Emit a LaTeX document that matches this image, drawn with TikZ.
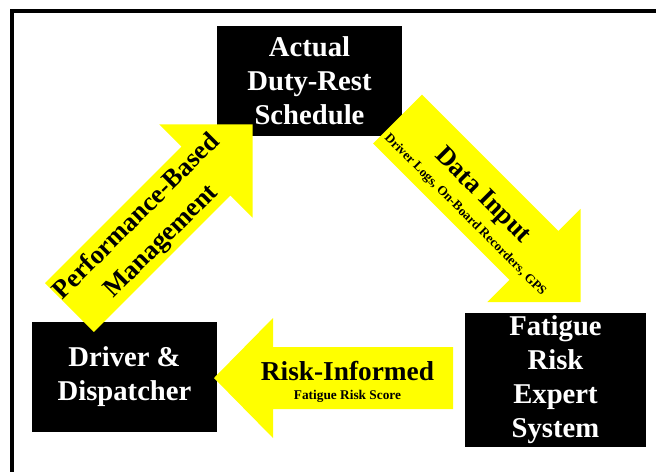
\documentclass[tikz,border=0pt]{standalone}
\usepackage{fontspec}
\setmainfont{Liberation Serif}
\usepackage{xcolor}
\usetikzlibrary{positioning}
\definecolor{arrowyellow}{RGB}{255, 255, 0}

\begin{document}
\begin{tikzpicture}[x=0.75pt, y=-0.75pt,
    blackbox/.style={rectangle, fill=black, text=white, align=center, inner sep=0pt, font=\fontsize{21.5}{25.5}\selectfont\bfseries},
    bigtxt/.style={text=black, align=center, inner sep=0pt, font=\fontsize{19.8}{26}\selectfont\bfseries},
    smalltxt/.style={text=black, inner sep=0pt, font=\fontsize{9.8}{11}\selectfont\bfseries}]
    \useasboundingbox (0,0) rectangle (656,472);

    % frame
    \draw[line width=2.3pt] (656,11) -- (12,11) -- (12,472);

    % boxes
    \node[blackbox, minimum width=138.75pt, minimum height=82.5pt] (sched) at (309.5,81) {Actual\\Duty-Rest\\Schedule};
    \node[blackbox, minimum width=138.75pt, minimum height=82.5pt] (driver) at (124.5,377) {Driver \&\\Dispatcher};
    \node[blackbox, minimum width=135.75pt, minimum height=100.5pt] (expert) at (555.5,380) {Fatigue\\Risk\\Expert\\System};

    % data input arrow
    \begin{scope}[shift={(397.5,119)}, rotate=-45]
        \fill[arrowyellow] (0,-34.5) -- (193,-34.5) -- (193,-66) -- (259,0) -- (193,66) -- (193,34.5) -- (0,34.5) -- cycle;
    \end{scope}
    \node[bigtxt, rotate=-45] (datain) at (482,196) {Data Input};
    \node[smalltxt, rotate=-45] (datasrc) at (465,215) {Driver Logs, On-Board Recorders, GPS};

    % risk-informed arrow
    \begin{scope}[shift={(453,378)}, rotate=180]
        \fill[arrowyellow] (0,-31) -- (180,-31) -- (180,-60) -- (239,0) -- (180,60) -- (180,31) -- (0,31) -- cycle;
    \end{scope}
    \node[bigtxt, anchor=base, font=\fontsize{20.5}{24}\selectfont\bfseries] (riskinf) at (347.5,380) {Risk-Informed};
    \node[smalltxt, anchor=base, font=\fontsize{10}{12}\selectfont\bfseries] (riskscore) at (347.5,399) {Fatigue Risk Score};

    % performance arrow
    \begin{scope}[shift={(69.5,307.5)}, rotate=45]
        \fill[arrowyellow] (0,-34.5) -- (193,-34.5) -- (193,-66) -- (259,0) -- (193,66) -- (193,34.5) -- (0,34.5) -- cycle;
    \end{scope}
    \node[bigtxt, rotate=45] (perf) at (149.5,229.5) {Performance-Based\\Management};
\end{tikzpicture}
\end{document}
